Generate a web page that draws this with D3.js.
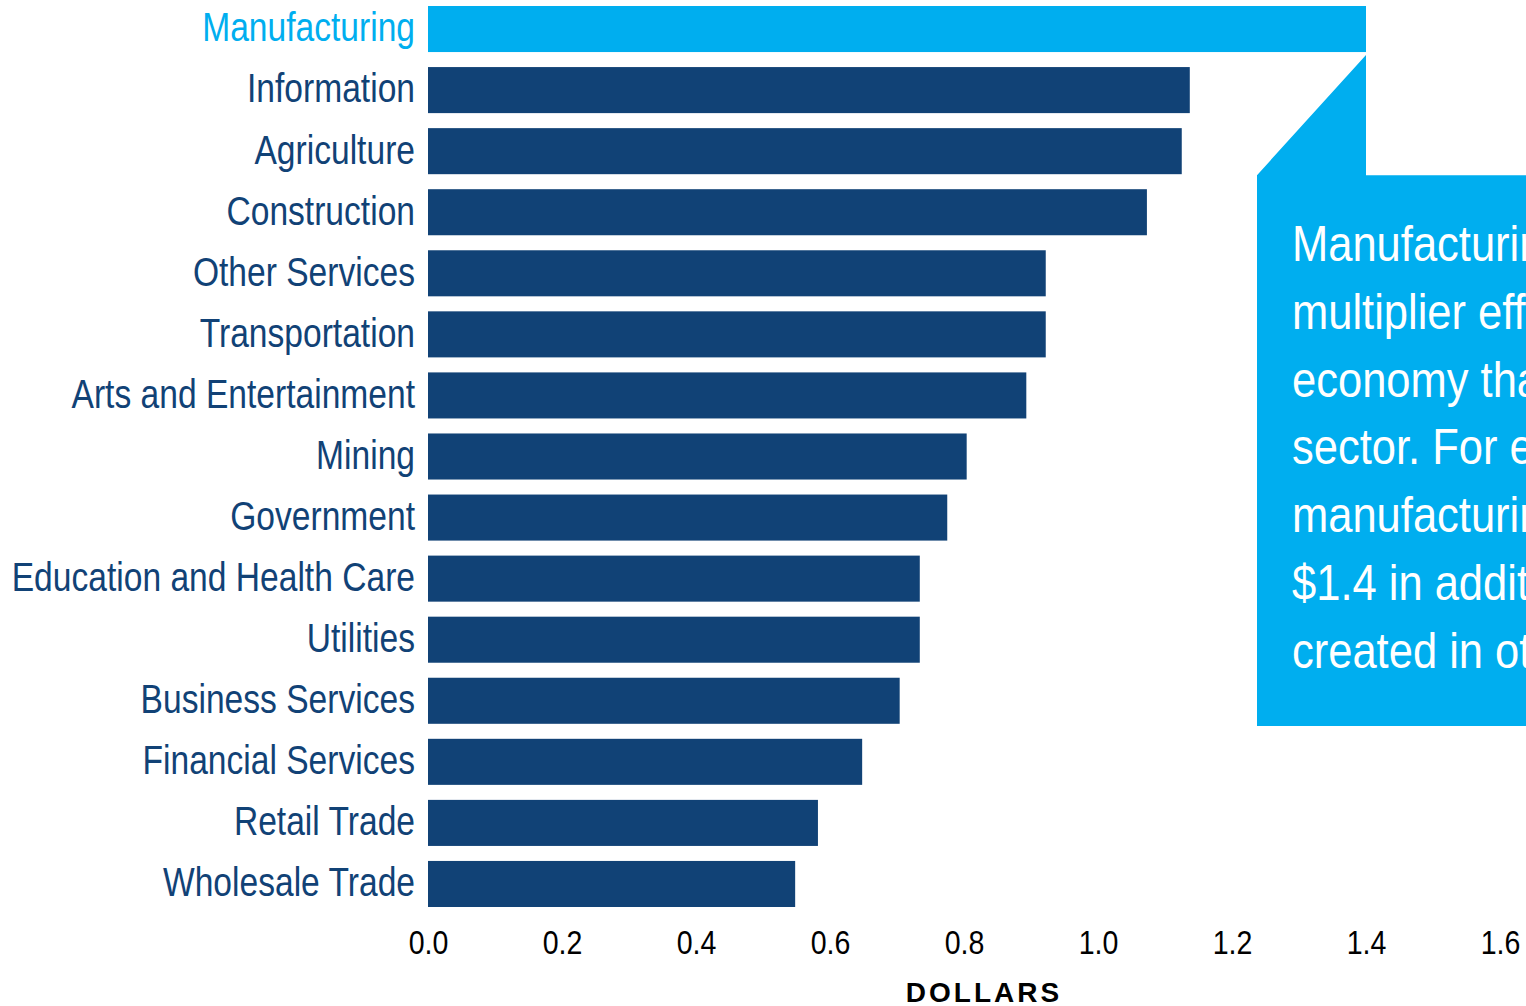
<!DOCTYPE html>
<html>
<head>
<meta charset="utf-8">
<script src="https://cdn.jsdelivr.net/npm/d3@7"></script>
<style>
  html, body { margin: 0; padding: 0; background: #ffffff; overflow: hidden; }
  svg { display: block; }
</style>
</head>
<body>
<svg id="chart" width="1526" height="1006"></svg>
<script>
const categories = ["Manufacturing","Information","Agriculture","Construction","Other Services","Transportation","Arts and Entertainment","Mining","Government","Education and Health Care","Utilities","Business Services","Financial Services","Retail Trade","Wholesale Trade"];
const values = [1.40,1.137,1.125,1.073,0.922,0.922,0.893,0.804,0.775,0.734,0.734,0.704,0.648,0.582,0.548];
const tickValues = [0,0.2,0.4,0.6,0.8,1.0,1.2,1.4,1.6];
const axisTitle = "DOLLARS";
const calloutLines = ["Manufacturing has a","multiplier effect on the","economy than any other","sector. For every $1 in","manufacturing, there is","$1.4 in additional value","created in other sectors."];

const NAVY = "#114276", BLUE = "#00AEEF";
const FONT = "'Liberation Sans',Arial,Helvetica,sans-serif";
const NARROW = 0.84;

const svg = d3.select("#chart");
const x = d3.scaleLinear().domain([0,1.6]).range([428,1500]);
const y = d3.scaleBand().domain(categories).range([6,907]).paddingInner(15/61).paddingOuter(0);

// bars
svg.append("g").selectAll("rect").data(categories).join("rect")
  .attr("x", x(0))
  .attr("y", d => y(d))
  .attr("width", (d,i) => x(values[i]) - x(0))
  .attr("height", y.bandwidth())
  .attr("fill", (d,i) => i === 0 ? BLUE : NAVY);

// category labels
svg.append("g").selectAll("text").data(categories).join("text")
  .attr("transform", d => `translate(415,${y(d) + y.bandwidth()/2}) scale(${NARROW},1)`)
  .attr("dy", "0.31em")
  .attr("text-anchor", "end")
  .attr("font-family", FONT)
  .attr("font-size", 40)
  .attr("fill", (d,i) => i === 0 ? BLUE : NAVY)
  .text(d => d);

// x axis
const axis = svg.append("g")
  .attr("transform", "translate(0,954)")
  .call(d3.axisBottom(x).tickValues(tickValues).tickFormat(d3.format(".1f")).tickSize(0).tickPadding(0));
axis.select(".domain").remove();
axis.selectAll("text")
  .attr("font-family", FONT)
  .attr("font-size", 34)
  .attr("fill", "#000")
  .attr("dy", "0")
  .attr("y", 0)
  .attr("transform", `scale(${NARROW},1)`);

svg.append("text")
  .attr("x", 984)
  .attr("y", 1002)
  .attr("text-anchor", "middle")
  .attr("font-family", FONT)
  .attr("font-weight", "bold")
  .attr("font-size", 28)
  .attr("letter-spacing", 3)
  .attr("fill", "#000")
  .text(axisTitle);

// callout
const tipX = x(values[0]);
const tipY = y(categories[0]) + y.bandwidth() + 3;
const boxTop = y(categories[2]) + y.bandwidth() + 1;
const boxLeft = tipX - 109;
const boxBottom = 726;
const pts = [[tipX, tipY],[tipX, boxTop],[1530, boxTop],[1530, boxBottom],[boxLeft, boxBottom],[boxLeft, boxTop]];
svg.append("polygon")
  .attr("points", pts.map(p => p.join(",")).join(" "))
  .attr("fill", BLUE);

svg.append("g").selectAll("text").data(calloutLines).join("text")
  .attr("transform", (d,i) => `translate(${boxLeft + 35},${261 + i*67.8}) scale(0.87,1)`)
  .attr("font-family", FONT)
  .attr("font-size", 50)
  .attr("fill", "#fff")
  .text(d => d);
</script>
</body>
</html>
